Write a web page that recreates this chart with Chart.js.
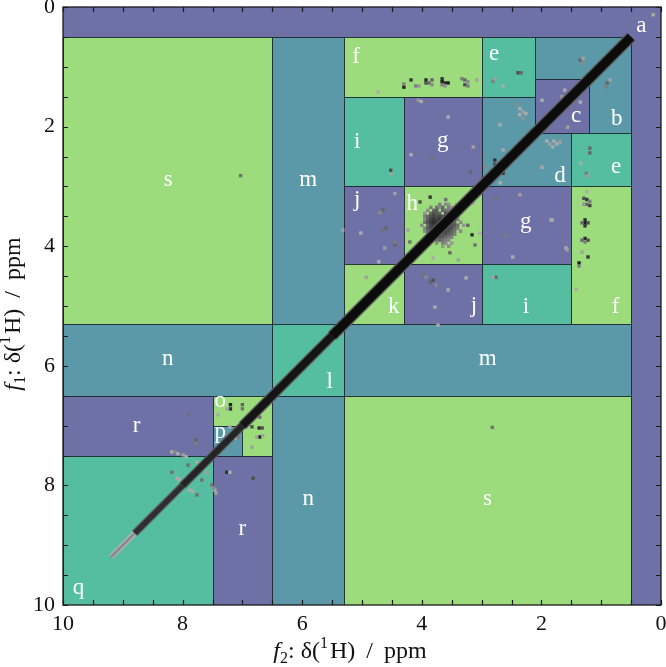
<!DOCTYPE html>
<html><head><meta charset="utf-8">
<script src="https://cdn.jsdelivr.net/npm/chart.js@4.4.1/dist/chart.umd.min.js"></script>
<style>html,body{margin:0;padding:0;background:#fff;}canvas{display:block;}</style>
</head><body>
<canvas id="c" width="666" height="667"></canvas>
<script>
// ---------------- DATA ----------------
const xTickLabels = ['10', '8', '6', '4', '2', '0'];
const yTickLabels = ['0', '2', '4', '6', '8', '10'];

// Regions: name, f2 range (ppm), f1 range (ppm) — drawn in this order
const regionNames = ['a','s','m','f','e','b','d','c','e','i','g','j','h','g','f','k','j','i','n','l','m','r','o','p','q','r','n','s'];
const regionF2 = [[0,10],[6.5,10],[5.3,6.5],[3.0,5.3],[2.1,3.0],[0.5,2.1],[1.5,3.0],[1.2,2.1],[0.5,1.5],[4.3,5.3],[3.0,4.3],[4.3,5.3],[3.0,4.3],[1.5,3.0],[0.5,1.5],[4.3,5.3],[3.0,4.3],[1.5,3.0],[6.5,10],[5.3,6.5],[0.5,5.3],[7.5,10],[6.5,7.5],[7.0,7.5],[7.5,10],[6.5,7.5],[5.3,6.5],[0.5,5.3]];
const regionF1 = [[0,10],[0.5,5.3],[0.5,5.3],[0.5,1.5],[0.5,1.5],[0.5,2.1],[1.5,3.0],[1.2,2.1],[2.1,3.0],[1.5,3.0],[1.5,3.0],[3.0,4.3],[3.0,4.3],[3.0,4.3],[3.0,5.3],[4.3,5.3],[4.3,5.3],[4.3,5.3],[5.3,6.5],[5.3,6.5],[5.3,6.5],[6.5,7.5],[6.5,7.5],[7.0,7.5],[7.5,10],[7.5,10],[6.5,10],[6.5,10]];

// Region letters and their positions (f2, f1 baseline) in ppm
const labelText = ['a','s','m','f','e','c','b','d','e','i','g','j','h','g','k','j','i','f','n','l','m','o','p','r','r','n','q','s'];
const labelF2 = [0.33,8.24,5.9,5.1,2.79,1.42,0.74,1.69,0.75,5.08,3.65,5.08,4.16,2.26,4.47,3.13,2.26,0.76,8.25,5.54,2.9,7.37,7.37,8.77,7.0,5.9,9.74,2.9];
const labelF1 = [0.41,3.0,2.99,0.94,0.89,1.93,1.97,2.92,2.78,2.36,2.34,3.33,3.39,3.70,5.12,5.1,5.12,5.12,5.99,6.37,5.99,6.69,7.21,7.1,8.83,8.33,9.82,8.33];

// Diagonal ridge: break points along f1 = f2 (ppm)
const diagonalBreaks = [0.5, 5.5, 7.0, 8.0, 8.8, 9.2];

// Cross peaks: [f2 ppm, f1 ppm, intensity 0..1]
const crossPeaks = [
  // f (top)
  [4.30,1.34,0.9],[4.30,1.29,0.5],[4.18,1.22,0.8],[4.10,1.32,0.5],[4.05,1.32,0.4],
  [3.93,1.22,0.85],[3.93,1.27,0.7],[3.88,1.27,0.6],[3.83,1.22,0.6],[3.83,1.30,0.45],
  [3.66,1.20,0.8],[3.66,1.25,0.9],[3.61,1.27,0.85],[3.56,1.27,0.9],[3.66,1.30,0.5],[3.61,1.32,0.4],
  [3.33,1.20,0.5],[3.28,1.22,0.6],[3.23,1.25,0.45],[3.28,1.30,0.7],[3.23,1.32,0.5],
  [3.08,1.22,0.35],[4.73,1.42,0.3],
  // e (top)
  [2.81,1.24,0.5],[2.78,1.20,0.35],[2.39,1.10,0.7],[2.34,1.10,0.6],[2.64,1.32,0.3],
  // b
  [1.35,0.89,0.6],[1.30,0.86,0.35],[1.32,0.94,0.45],[0.90,1.27,0.6],[0.85,1.22,0.35],[0.92,1.34,0.5],
  // c
  [1.99,1.56,0.3],[1.61,1.39,0.3],[1.56,2.01,0.35],[1.35,1.59,0.3],[1.66,1.50,0.4],
  // d
  [2.41,1.62,0.45],[2.36,1.70,0.3],[2.31,1.75,0.35],[2.36,1.80,0.3],[2.26,1.78,0.3],[2.31,1.87,0.4],[2.69,1.97,0.3],
  [1.91,2.24,0.3],[1.86,2.29,0.35],[1.79,2.24,0.3],[1.74,2.29,0.3],[1.69,2.26,0.35],[1.81,2.34,0.3],[1.99,2.68,0.3],
  [2.64,2.39,0.3],[2.78,2.56,0.8],[2.78,2.63,0.7],[2.71,2.70,0.6],[2.94,2.68,0.45],[2.64,2.78,0.8],[2.69,2.94,0.3],
  // e (right)
  [1.19,2.36,0.6],[1.19,2.44,0.6],[1.34,2.61,0.3],[1.25,2.78,0.5],[1.22,2.83,0.35],
  // g (top)
  [3.56,1.84,0.3],[3.14,2.34,0.35],[3.83,2.53,0.55],[4.18,2.47,0.3],[3.19,2.76,0.6],[4.06,1.56,0.4],[4.01,1.58,0.3],
  // i (top)
  [4.52,2.73,0.7],[4.52,2.80,0.35],
  // j (left)
  [4.45,3.12,0.35],[4.65,3.39,0.6],[4.70,3.44,0.45],[5.02,3.78,0.3],[4.65,3.73,0.55],[4.60,3.70,0.6],
  [4.62,4.03,0.35],[4.45,3.98,0.6],[4.45,3.93,0.5],[4.72,4.26,0.3],[5.32,3.73,0.35],
  // h outliers
  [4.23,3.73,0.35],[4.20,3.93,0.55],[3.16,3.81,0.85],[3.11,3.98,0.55],[3.23,3.65,0.6],[3.81,4.20,0.3],
  [3.53,4.11,0.6],[3.39,4.23,0.35],[3.86,3.18,0.8],[4.03,3.26,0.7],[3.41,3.31,0.5],[3.14,3.28,0.3],
  [3.03,3.78,0.3],[3.60,3.22,0.55],
  // h blob (rows of constant f1)
  [3.70,3.30,0.5],[3.60,3.30,0.45],[3.55,3.30,0.4],
  [3.85,3.35,0.5],[3.75,3.35,0.55],[3.70,3.35,0.45],[3.65,3.35,0.6],[3.55,3.35,0.5],[3.50,3.35,0.4],
  [3.90,3.40,0.45],[3.80,3.40,0.6],[3.75,3.40,0.65],[3.65,3.40,0.6],[3.60,3.40,0.55],[3.55,3.40,0.5],[3.45,3.40,0.4],
  [3.95,3.45,0.4],[3.85,3.45,0.6],[3.80,3.45,0.7],[3.75,3.45,0.65],[3.70,3.45,0.6],[3.60,3.45,0.7],[3.55,3.45,0.6],[3.50,3.45,0.5],[3.40,3.45,0.45],
  [3.95,3.50,0.5],[3.90,3.50,0.6],[3.85,3.50,0.7],[3.80,3.50,0.75],[3.75,3.50,0.7],[3.70,3.50,0.75],[3.65,3.50,0.7],[3.60,3.50,0.75],[3.55,3.50,0.7],[3.45,3.50,0.55],[3.40,3.50,0.45],
  [3.95,3.55,0.45],[3.90,3.55,0.65],[3.85,3.55,0.75],[3.80,3.55,0.8],[3.75,3.55,0.75],[3.70,3.55,0.8],[3.65,3.55,0.75],[3.60,3.55,0.7],[3.50,3.55,0.7],[3.45,3.55,0.6],[3.40,3.55,0.5],
  [3.95,3.60,0.55],[3.90,3.60,0.7],[3.85,3.60,0.8],[3.80,3.60,0.85],[3.75,3.60,0.8],[3.70,3.60,0.85],[3.65,3.60,0.8],[3.55,3.60,0.75],[3.50,3.60,0.7],[3.45,3.60,0.6],[3.35,3.60,0.45],
  [4.00,3.65,0.45],[3.90,3.65,0.6],[3.85,3.65,0.75],[3.80,3.65,0.8],[3.75,3.65,0.85],[3.70,3.65,0.8],[3.60,3.65,0.8],[3.55,3.65,0.75],[3.50,3.65,0.7],[3.45,3.65,0.65],[3.40,3.65,0.55],[3.30,3.65,0.4],
  [3.95,3.70,0.5],[3.90,3.70,0.65],[3.85,3.70,0.75],[3.80,3.70,0.8],[3.75,3.70,0.8],[3.65,3.70,0.85],[3.60,3.70,0.8],[3.55,3.70,0.75],[3.50,3.70,0.7],[3.45,3.70,0.6],[3.40,3.70,0.5],
  [3.95,3.75,0.45],[3.90,3.75,0.6],[3.85,3.75,0.7],[3.80,3.75,0.75],[3.70,3.75,0.8],[3.65,3.75,0.8],[3.60,3.75,0.75],[3.55,3.75,0.7],[3.50,3.75,0.65],[3.45,3.75,0.55],[3.35,3.75,0.45],
  [3.90,3.80,0.55],[3.85,3.80,0.65],[3.75,3.80,0.7],[3.70,3.80,0.75],[3.65,3.80,0.7],[3.60,3.80,0.7],[3.55,3.80,0.65],[3.50,3.80,0.6],[3.45,3.80,0.5],
  [3.90,3.85,0.45],[3.80,3.85,0.6],[3.75,3.85,0.65],[3.70,3.85,0.7],[3.65,3.85,0.65],[3.60,3.85,0.6],[3.55,3.85,0.55],[3.50,3.85,0.5],
  [3.85,3.90,0.5],[3.75,3.90,0.55],[3.70,3.90,0.6],[3.65,3.90,0.55],[3.60,3.90,0.5],[3.55,3.90,0.45],
  [3.75,3.95,0.45],[3.65,3.95,0.5],[3.60,3.95,0.45],[3.50,3.95,0.4],
  [3.65,4.00,0.4],[3.55,4.00,0.45],
  // g (right)
  [2.36,3.14,0.35],[2.76,3.19,0.55],[1.84,3.56,0.3],[2.59,3.81,0.5],[2.48,4.18,0.3],[1.59,4.03,0.3],[1.57,4.06,0.35],[1.82,3.56,0.3],
  // f (right)
  [1.29,3.20,0.7],[1.24,3.22,0.8],[1.19,3.25,0.5],[1.24,3.30,0.6],[1.19,3.32,0.75],[1.29,3.30,0.4],[1.24,3.09,0.3],
  [1.27,3.56,0.85],[1.27,3.61,0.9],[1.22,3.61,0.7],[1.32,3.61,0.6],[1.27,3.66,0.8],[1.27,3.87,0.85],[1.22,3.90,0.7],
  [1.32,3.90,0.6],[1.27,3.93,0.5],[1.32,4.10,0.35],[1.22,4.18,0.8],[1.37,4.28,0.9],[1.37,4.33,0.5],[1.42,4.72,0.3],
  // i (bottom), j (bottom), k
  [2.76,4.52,0.6],[2.81,4.52,0.35],
  [3.98,4.47,0.55],[3.93,4.52,0.45],[3.86,4.60,0.6],[3.81,4.57,0.7],[3.76,4.65,0.45],[3.56,4.73,0.3],[3.78,5.02,0.3],[3.26,4.53,0.3],[3.73,5.32,0.3],
  [4.93,4.52,0.35],
  // s
  [7.03,2.82,0.55],[2.82,7.03,0.55],[0.13,0.13,0.3],
  // o / p
  [7.20,6.65,0.9],[7.20,6.72,0.85],[7.25,6.72,0.35],[7.00,6.65,0.6],[7.00,6.72,0.55],[6.82,6.79,0.35],[7.41,6.82,0.3],
  [6.71,6.86,0.55],[6.84,7.02,0.7],[6.72,7.04,0.85],[6.67,7.04,0.7],[6.71,7.19,0.9],[6.76,7.19,0.35],[6.66,7.17,0.35],
  [6.84,7.36,0.35],[7.21,7.02,0.3],[7.12,7.20,0.05],[7.07,7.20,0.5],
  // r / q near diagonal
  [7.90,6.82,0.55],[7.78,7.24,0.6],[7.78,7.30,0.5],[8.18,7.44,0.3],[8.13,7.44,0.45],[8.08,7.47,0.3],[7.99,7.49,0.35],
  [7.94,7.52,0.3],[7.91,7.66,0.55],[8.18,7.78,0.55],[8.09,7.88,0.3],[8.05,7.90,0.3],[7.88,8.08,0.3],[7.83,8.10,0.3],
  [7.68,7.91,0.55],[7.76,7.61,0.3],[7.70,7.66,0.35],[7.64,7.72,0.3],[7.59,7.79,0.35],[7.46,8.08,0.3],[7.51,7.99,0.55],
  [7.26,7.78,0.85],[7.21,7.78,0.3],[6.82,7.88,0.7],[7.76,8.16,0.55],[7.48,8.04,0.45],[7.44,8.13,0.35]
];

// ---------------- STYLE ----------------
const PURPLE = '#6e71a6', TEALBLUE = '#5b99a9', TEALGREEN = '#56bea0', GREEN = '#9cdc7c';
const regionColors = {a:PURPLE,b:TEALBLUE,c:PURPLE,d:TEALBLUE,e:TEALGREEN,f:GREEN,g:PURPLE,h:GREEN,i:TEALGREEN,j:PURPLE,k:GREEN,l:TEALGREEN,m:TEALBLUE,n:TEALBLUE,o:GREEN,p:TEALBLUE,q:TEALGREEN,r:PURPLE,s:GREEN};
const diagonalWidths = [9, 7.5, 6, 5, 3];
const diagonalColors = ['#0c0c0c', '#141414', '#242424', '#2e2e2e', '#8c8c8c'];
const FONT = "'Liberation Serif', 'DejaVu Serif', serif";

function peakColor(level) {
  const g = Math.round(240 - level * 230);
  return `rgb(${g},${g},${g})`;
}

const datasets = [];
for (let i = 0; i < diagonalBreaks.length - 1; i++) {
  const a = diagonalBreaks[i], b = diagonalBreaks[i + 1];
  datasets.push({
    data: [{x: a, y: a}, {x: b, y: b}], showLine: true, pointRadius: 0,
    borderColor: diagonalColors[i], borderWidth: diagonalWidths[i], borderCapStyle: 'butt', order: 1
  });
  datasets.push({
    data: [{x: a, y: a}, {x: b, y: b}], showLine: true, pointRadius: 0,
    borderColor: i < 4 ? '#5a5a5a' : '#b5b5b5', borderWidth: diagonalWidths[i] + 2.5, borderCapStyle: 'butt', order: 2
  });
}
datasets.push({
  data: crossPeaks.map(p => ({x: p[0], y: p[1]})),
  pointStyle: 'rect', pointRadius: 2.4, pointBorderWidth: 0,
  pointBackgroundColor: crossPeaks.map(p => peakColor(p[2])),
  order: 3
});

function drawRich(ctx, parts) {
  let w = 0;
  parts.forEach(p => { if (p.gap) { w += p.gap; return; } ctx.font = p.font; w += ctx.measureText(p.t).width; });
  let x = -w / 2;
  parts.forEach(p => {
    if (p.gap) { x += p.gap; return; }
    ctx.font = p.font; ctx.fillText(p.t, x, p.dy); x += ctx.measureText(p.t).width;
  });
}
function titleParts(sub) {
  const s = 24, ss = 16;
  return [
    {t: 'f', font: `italic ${s}px ${FONT}`, dy: 0},
    {t: sub, font: `${ss}px ${FONT}`, dy: 5},
    {t: ':', font: `${s}px ${FONT}`, dy: 0},
    {gap: 6},
    {t: 'δ(', font: `${s}px ${FONT}`, dy: 0},
    {t: '1', font: `${ss}px ${FONT}`, dy: -10},
    {gap: 2},
    {t: 'H)', font: `${s}px ${FONT}`, dy: 0},
    {gap: 11},
    {t: '/', font: `${s}px ${FONT}`, dy: 0},
    {gap: 11},
    {t: 'ppm', font: `${s}px ${FONT}`, dy: 0}
  ];
}

const regionPlugin = {
  id: 'regions',
  beforeDatasetsDraw(chart) {
    const {ctx, chartArea: ca, scales: {x, y}} = chart;
    ctx.save();
    ctx.beginPath(); ctx.rect(ca.left, ca.top, ca.right - ca.left, ca.bottom - ca.top); ctx.clip();
    regionNames.forEach((name, i) => {
      const x1 = x.getPixelForValue(regionF2[i][0]), x2 = x.getPixelForValue(regionF2[i][1]);
      const y1 = y.getPixelForValue(regionF1[i][0]), y2 = y.getPixelForValue(regionF1[i][1]);
      const l = Math.round(Math.min(x1, x2)), r = Math.round(Math.max(x1, x2));
      const t = Math.round(Math.min(y1, y2)), b = Math.round(Math.max(y1, y2));
      ctx.fillStyle = regionColors[name];
      ctx.fillRect(l, t, r - l, b - t);
      if (i > 0) {
        ctx.strokeStyle = 'rgba(28,36,46,0.9)'; ctx.lineWidth = 1;
        ctx.strokeRect(l + 0.5, t + 0.5, r - l, b - t);
      }
    });
    ctx.restore();
  },
  afterDatasetsDraw(chart) {
    const {ctx, chartArea: ca, scales: {x, y}} = chart;
    ctx.save();
    ctx.fillStyle = '#ffffff';
    ctx.font = `23px ${FONT}`;
    ctx.textAlign = 'center'; ctx.textBaseline = 'alphabetic';
    labelText.forEach((t, i) => ctx.fillText(t, x.getPixelForValue(labelF2[i]), y.getPixelForValue(labelF1[i])));
    ctx.strokeStyle = '#1a1a1a'; ctx.lineWidth = 1.3;
    ctx.strokeRect(ca.left, ca.top, ca.right - ca.left, ca.bottom - ca.top);
    ctx.lineWidth = 1.2;
    ctx.beginPath();
    x.ticks.forEach(tk => {
      const px = Math.round(x.getPixelForValue(tk.value)) + 0.5;
      ctx.moveTo(px, ca.bottom); ctx.lineTo(px, ca.bottom - 5);
      ctx.moveTo(px, ca.top); ctx.lineTo(px, ca.top + 5);
    });
    y.ticks.forEach(tk => {
      const py = Math.round(y.getPixelForValue(tk.value)) + 0.5;
      ctx.moveTo(ca.left, py); ctx.lineTo(ca.left + 5, py);
      ctx.moveTo(ca.right, py); ctx.lineTo(ca.right - 5, py);
    });
    ctx.stroke();
    ctx.restore();
  },
  afterDraw(chart) {
    const {ctx} = chart;
    ctx.save();
    ctx.fillStyle = '#111'; ctx.textBaseline = 'alphabetic'; ctx.textAlign = 'left';
    ctx.save(); ctx.translate(350, 658); drawRich(ctx, titleParts('2')); ctx.restore();
    ctx.save(); ctx.translate(20, 314); ctx.rotate(-Math.PI / 2); drawRich(ctx, titleParts('1')); ctx.restore();
    ctx.restore();
  }
};

const tickFont = {family: FONT, size: 22};
new Chart(document.getElementById('c'), {
  type: 'scatter',
  data: {datasets},
  options: {
    responsive: false, animation: false, events: [],
    layout: {padding: {top: 7, right: 5, left: 0, bottom: 0}},
    plugins: {legend: {display: false}, tooltip: {enabled: false}},
    scales: {
      x: {
        type: 'linear', min: 0, max: 10, reverse: true,
        afterFit(s) { s.height = 62; s.paddingLeft = 0; s.paddingRight = 0; },
        grid: {display: false, drawTicks: false}, border: {display: false},
        ticks: {stepSize: 0.5, autoSkip: false, maxRotation: 0, padding: 6, font: tickFont, color: '#111',
          callback: v => { const i = xTickLabels.indexOf(String(v)); return i >= 0 ? xTickLabels[i] : ''; }}
      },
      y: {
        type: 'linear', min: 0, max: 10, reverse: true,
        afterFit(s) { s.width = 63; s.paddingTop = 0; s.paddingBottom = 0; },
        grid: {display: false, drawTicks: false}, border: {display: false},
        ticks: {stepSize: 0.5, autoSkip: false, padding: 8, font: tickFont, color: '#111',
          callback: v => { const i = yTickLabels.indexOf(String(v)); return i >= 0 ? yTickLabels[i] : ''; }}
      }
    }
  },
  plugins: [regionPlugin]
});
</script>
</body></html>
